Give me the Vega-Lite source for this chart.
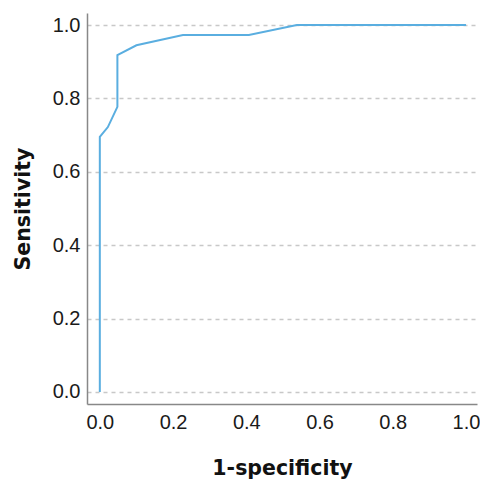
{
  "$schema": "https://vega.github.io/schema/vega-lite/v6.json",
  "width": 390,
  "height": 391,
  "autosize": "none",
  "padding": {"left": 87, "top": 13, "right": 3, "bottom": 77},
  "background": "white",
  "config": {"view": {"stroke": null}, "font": "Liberation Sans"},
  "data": {"values": [
    {"fpr": 0.0, "tpr": 0.0, "o": 0},
    {"fpr": 0.0, "tpr": 0.695, "o": 1},
    {"fpr": 0.022, "tpr": 0.722, "o": 2},
    {"fpr": 0.048, "tpr": 0.777, "o": 3},
    {"fpr": 0.048, "tpr": 0.918, "o": 4},
    {"fpr": 0.1, "tpr": 0.945, "o": 5},
    {"fpr": 0.227, "tpr": 0.973, "o": 6},
    {"fpr": 0.407, "tpr": 0.973, "o": 7},
    {"fpr": 0.538, "tpr": 1.0, "o": 8},
    {"fpr": 1.0, "tpr": 1.0, "o": 9}
  ]},
  "mark": {"type": "line", "color": "#5aaee0", "strokeWidth": 2, "clip": true},
  "encoding": {
    "x": {"field": "fpr", "type": "quantitative", "title": "1-specificity",
      "scale": {"domain": [-0.035, 1.03], "nice": false, "zero": false},
      "axis": {"values": [0, 0.2, 0.4, 0.6, 0.8, 1.0], "format": ".1f", "grid": false, "ticks": false,
        "domainColor": "#888888", "domainWidth": 1.5, "labelFontSize": 20, "labelColor": "#1a1a1a",
        "labelPadding": 8, "titleFont": "DejaVu Sans", "titleFontSize": 20.5, "titleFontWeight": "bold", "titleColor": "#111111", "titlePadding": 26}},
    "y": {"field": "tpr", "type": "quantitative", "title": "Sensitivity",
      "scale": {"domain": [-0.033, 1.033], "nice": false, "zero": false},
      "axis": {"values": [0, 0.2, 0.4, 0.6, 0.8, 1.0], "format": ".1f", "grid": true, "ticks": false,
        "gridColor": "#c8c8c8", "gridDash": [4, 4], "gridWidth": 1.5,
        "domainColor": "#888888", "domainWidth": 1.5, "labelFontSize": 20, "labelColor": "#1a1a1a",
        "labelPadding": 7, "titleFont": "DejaVu Sans", "titleFontSize": 20.5, "titleFontWeight": "bold", "titleColor": "#111111", "titlePadding": 19}},
    "order": {"field": "o", "type": "quantitative"}
  }
}
